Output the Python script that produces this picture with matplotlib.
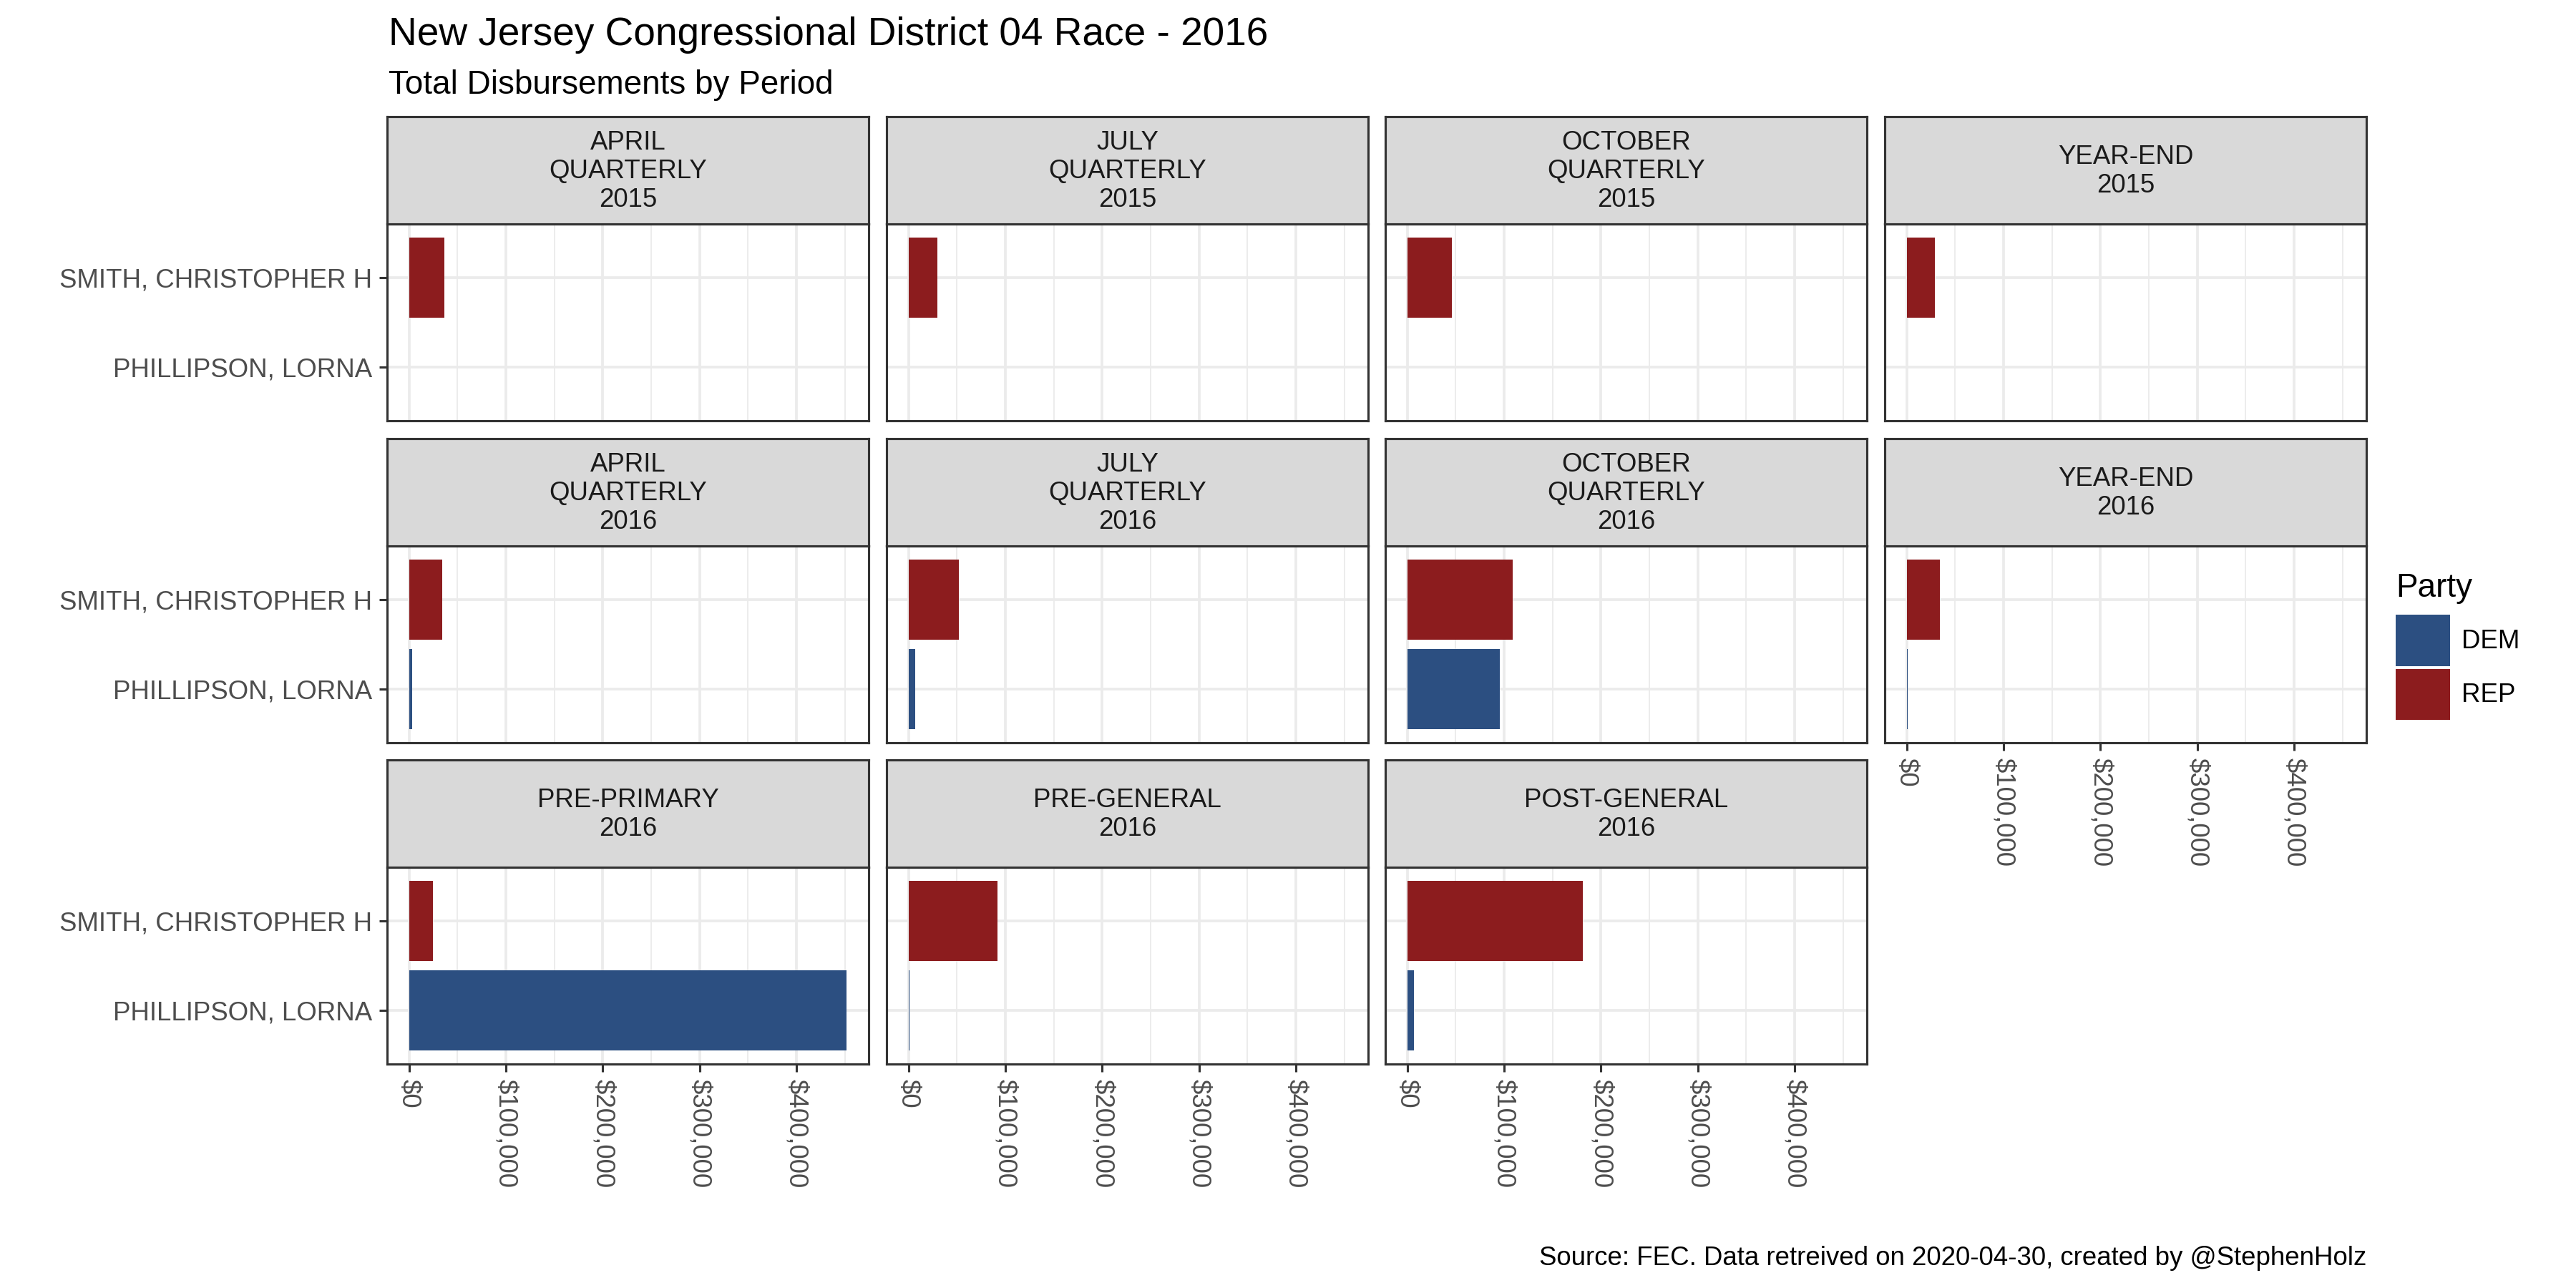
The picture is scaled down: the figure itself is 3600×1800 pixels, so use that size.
import matplotlib
matplotlib.use("Agg")
import matplotlib.pyplot as plt
import numpy as np
from matplotlib.patches import Patch
from matplotlib.ticker import FuncFormatter

plt.rcParams['font.family'] = ['Liberation Sans', 'DejaVu Sans']

periods = ['APRIL\nQUARTERLY\n2015', 'JULY\nQUARTERLY\n2015', 'OCTOBER\nQUARTERLY\n2015', 'YEAR-END\n2015',
           'APRIL\nQUARTERLY\n2016', 'JULY\nQUARTERLY\n2016', 'OCTOBER\nQUARTERLY\n2016', 'YEAR-END\n2016',
           'PRE-PRIMARY\n2016', 'PRE-GENERAL\n2016', 'POST-GENERAL\n2016']
candidates = ['PHILLIPSON, LORNA', 'SMITH, CHRISTOPHER H']
# disbursements per period (nan = no filing)
smith = [36200, 30100, 46200, 28900, 34000, 51800, 109000, 34600, 24900, 92200, 181300]
phillipson = [np.nan, np.nan, np.nan, np.nan, 3500, 7100, 95900, 700, 452000, 800, 7300]

party_colors = {'DEM': '#2C4F81', 'REP': '#8C1C1E'}
border = '#333333'
grid = '#EBEBEB'

W, H = 3600, 1800
fig = plt.figure(figsize=(12, 6), dpi=300)

col_left = [541, 1239, 1936, 2634]
panel_w = 673
panel_top = [313, 763, 1212]
panel_h = 275
strip_h = 150

vmax = np.nanmax(smith + phillipson)
xlim = (-0.05 * vmax, 1.05 * vmax)
fmt = FuncFormatter(lambda v, p: '${:,.0f}'.format(v))

for i, per in enumerate(periods):
    r, c = divmod(i, 4)
    x0 = col_left[c] / W
    y0 = 1 - (panel_top[r] + panel_h) / H
    ax = fig.add_axes([x0, y0, panel_w / W, panel_h / H])
    sax = fig.add_axes([x0, 1 - panel_top[r] / H, panel_w / W, strip_h / H])

    vals = [phillipson[i], smith[i]]
    cols = [party_colors['DEM'], party_colors['REP']]
    ypos = np.arange(1, 3)
    for y, v, col in zip(ypos, vals, cols):
        if not np.isnan(v):
            ax.barh(y, v, height=0.9, color=col, zorder=2)

    ax.set_xlim(*xlim)
    ax.set_ylim(0.4, 2.6)
    ax.set_xticks([0, 100000, 200000, 300000, 400000])
    ax.set_xticks([50000, 150000, 250000, 350000, 450000], minor=True)
    ax.set_yticks(ypos)
    ax.grid(which='major', color=grid, lw=0.9, zorder=0)
    ax.grid(which='minor', axis='x', color=grid, lw=0.45, zorder=0)
    ax.set_axisbelow(True)
    for s in ax.spines.values():
        s.set_color(border)
        s.set_linewidth(0.75)
        s.set_zorder(3)
    ax.tick_params(which='minor', length=0)
    ax.tick_params(which='major', length=2.75, width=0.75, color=border,
                   labelsize=8.8, labelcolor='#4D4D4D', pad=2.2)

    show_x = (r == 2) or (r == 1 and c == 3)
    if show_x:
        ax.xaxis.set_major_formatter(fmt)
        for lab in ax.get_xticklabels():
            lab.set_rotation(270)
            lab.set_ha('center')
            lab.set_va('top')
    else:
        ax.tick_params(axis='x', length=0, labelbottom=False)
    if c == 0:
        ax.set_yticklabels(candidates)
    else:
        ax.tick_params(axis='y', length=0, labelleft=False)

    sax.set_facecolor('#D9D9D9')
    sax.set_xticks([])
    sax.set_yticks([])
    for s in sax.spines.values():
        s.set_color(border)
        s.set_linewidth(0.75)
    sax.text(0.5, 0.49, per, ha='center', va='center', fontsize=8.8, color='#1A1A1A',
             linespacing=1.18, transform=sax.transAxes)

fig.text(543 / W, 1 - 63 / H, 'New Jersey Congressional District 04 Race - 2016',
         fontsize=13.2, ha='left', va='baseline', color='black')
fig.text(543 / W, 1 - 131 / H, 'Total Disbursements by Period',
         fontsize=11, ha='left', va='baseline', color='black')
fig.text(3307 / W, 1 - 1768 / H, 'Source: FEC. Data retreived on 2020-04-30, created by @StephenHolz',
         fontsize=8.8, ha='right', va='baseline', color='black')

handles = [Patch(facecolor=party_colors['DEM']), Patch(facecolor=party_colors['REP'])]
leg = fig.legend(handles, ['DEM', 'REP'], title='Party', loc='upper left',
                 bbox_to_anchor=(3348 / W, 1 - 800 / H), frameon=False,
                 fontsize=8.8, title_fontsize=11, handlelength=2.07, handleheight=2.62,
                 labelspacing=0.1, handletextpad=0.45, borderpad=0, borderaxespad=0,
                 alignment='left')
# a bit more room between the legend title and the keys
leg._legend_box.sep = 3.7

fig.savefig('out.png', dpi=300)
